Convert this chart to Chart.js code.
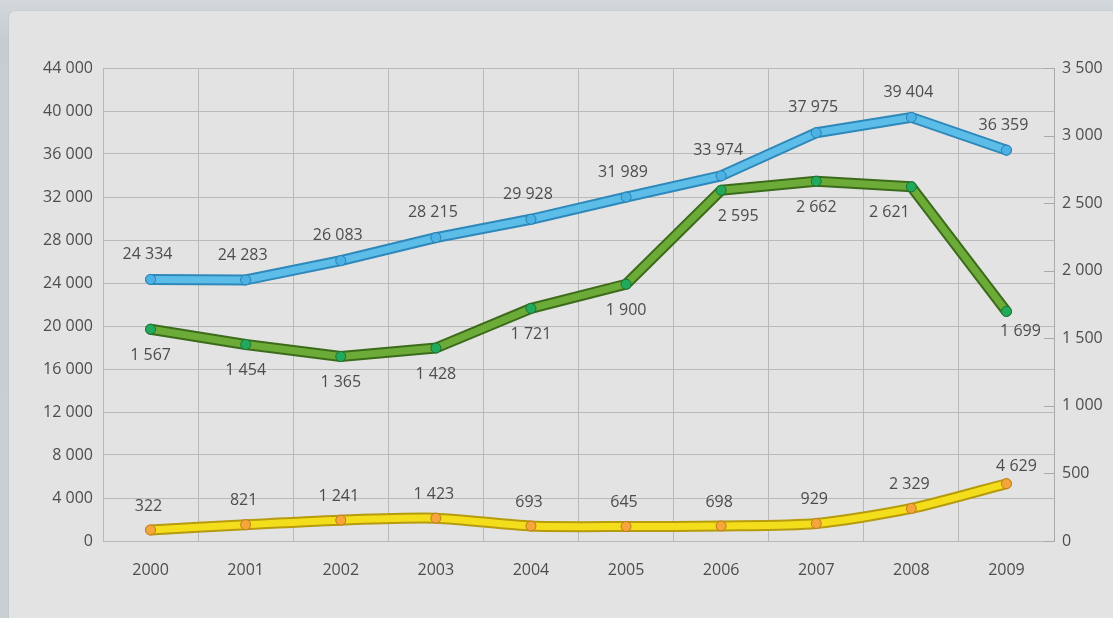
<!DOCTYPE html>
<html>
<head>
<meta charset="utf-8">
<script src="https://cdn.jsdelivr.net/npm/chart.js@4/dist/chart.umd.min.js"></script>
<style>
  html, body { margin: 0; padding: 0; }
  body { width: 1113px; height: 618px; background: linear-gradient(#d2d8dc, #c7ced3 40px, #c9d0d4); overflow: hidden; }
  #panel { position: absolute; left: 9px; top: 11px; width: 1120px; height: 620px; background: #e2e3e2; border-radius: 6px; box-shadow: 0 0 2px rgba(0,0,0,0.12); }
  #wrap { position: absolute; left: 0; top: 0; width: 1113px; height: 618px; }
</style>
</head>
<body>
<div id="panel"></div>
<div id="wrap"><canvas id="myChart"></canvas></div>
<script>
// years on the x axis
const years = ['2000', '2001', '2002', '2003', '2004', '2005', '2006', '2007', '2008', '2009'];
// blue line, left axis
const blueValues = [24334, 24283, 26083, 28215, 29928, 31989, 33974, 37975, 39404, 36359];
// green line, right axis
const greenValues = [1567, 1454, 1365, 1428, 1721, 1900, 2595, 2662, 2621, 1699];
// yellow line, drawn a little above the floor like in the original
const yellowValues = [322, 821, 1241, 1423, 693, 645, 698, 929, 2329, 4629];
// axis ranges
const leftMax = 44000, leftStep = 4000;
const rightMax = 3500, rightStep = 500;
const yellowMin = -700, yellowMax = 43300;

const fmt = (v) => String(v).replace(/\B(?=(\d{3})+(?!\d))/g, ' ');
const FONT = '"Open Sans", "Noto Sans", sans-serif';
const TEXT = '#4d4d4d';

// label offsets per series (dx, dy) and a few per-point tweaks
const labelPlaces = {
  blue: { dx: -3, dy: -25 },
  green: { dx: 0, dy: 26, tweak: { 6: [17, 0], 8: [-22, 0], 9: [14, -6] } },
  yellow: { dx: -2, dy: -24, tweak: { 9: [12, 7] } }
};

const valueLabels = {
  id: 'valueLabels',
  afterDatasetsDraw(chart) {
    const c = chart.ctx;
    c.save();
    c.font = '16px ' + FONT;
    c.fillStyle = TEXT;
    c.textAlign = 'center';
    c.textBaseline = 'middle';
    chart.data.datasets.forEach((ds, i) => {
      if (!ds.labelKey) return;
      const place = labelPlaces[ds.labelKey];
      chart.getDatasetMeta(i).data.forEach((pt, j) => {
        const t = (place.tweak && place.tweak[j]) || [0, 0];
        c.fillText(fmt(ds.data[j]), pt.x + place.dx + t[0], pt.y + place.dy + t[1]);
      });
    });
    c.restore();
  }
};

// short tick marks on the inside of the right axis
const rightTicks = {
  id: 'rightTicks',
  afterDraw(chart) {
    const s = chart.scales.y2;
    const c = chart.ctx;
    c.save();
    c.strokeStyle = '#a9a9a9';
    c.lineWidth = 1;
    s.ticks.forEach((tk) => {
      const y = Math.round(s.getPixelForValue(tk.value)) + 0.5;
      c.beginPath();
      c.moveTo(s.left - 10, y);
      c.lineTo(s.left, y);
      c.stroke();
    });
    c.restore();
  }
};

function tube(data, axis, color, edge, pointFill, pointEdge, order, key, tension) {
  return [
    {
      data: data, yAxisID: axis, labelKey: key, order: order,
      borderColor: color, borderWidth: 7, tension: tension,
      borderJoinStyle: 'round', borderCapStyle: 'round',
      pointRadius: 5, pointBackgroundColor: pointFill, pointBorderColor: pointEdge, pointBorderWidth: 1
    },
    {
      data: data, yAxisID: axis, order: order + 1,
      borderColor: edge, borderWidth: 11, tension: tension,
      borderJoinStyle: 'round', borderCapStyle: 'round',
      pointRadius: 0
    }
  ];
}

const ctx = document.getElementById('myChart').getContext('2d');
const config = {
  type: 'line',
  data: {
    labels: years,
    datasets: [
      ...tube(blueValues, 'y', '#5cbde9', '#2f88ba', '#4cb2e6', '#2a7fae', 0, 'blue', 0),
      ...tube(greenValues, 'y2', '#6cab37', '#3c6c1b', '#22aa5a', '#16743c', 2, 'green', 0),
      ...tube(yellowValues, 'y3', '#f4de1c', '#b79b0e', '#f5a63a', '#c27a1e', 4, 'yellow', 0.25)
    ]
  },
  options: {
    responsive: true,
    maintainAspectRatio: false,
    animation: false,
    layout: { padding: { top: 68, left: 0, right: 0, bottom: 0 } },
    plugins: { legend: { display: false }, tooltip: { enabled: false } },
    scales: {
      x: {
        offset: true,
        grid: { offset: true, color: '#b9b9b9', drawTicks: false },
        border: { display: false },
        ticks: { color: TEXT, font: { family: FONT, size: 16 }, padding: 20, maxRotation: 0 },
        afterFit: (s) => { s.height = 77; }
      },
      y: {
        position: 'left',
        min: 0, max: leftMax,
        grid: { color: '#b9b9b9', drawTicks: false },
        border: { color: '#b9b9b9' },
        ticks: { stepSize: leftStep, color: TEXT, font: { family: FONT, size: 16 }, padding: 10, callback: (v) => fmt(v) },
        afterFit: (s) => { s.width = 103; }
      },
      y2: {
        position: 'right',
        min: 0, max: rightMax,
        grid: { drawOnChartArea: false, drawTicks: false },
        border: { color: '#a9a9a9' },
        ticks: { stepSize: rightStep, color: TEXT, font: { family: FONT, size: 16 }, padding: 8, callback: (v) => fmt(v) },
        afterFit: (s) => { s.width = 59; }
      },
      y3: {
        display: false,
        min: yellowMin, max: yellowMax
      }
    }
  },
  plugins: [valueLabels, rightTicks]
};

const myChart = new Chart(ctx, config);
</script>
</body>
</html>
